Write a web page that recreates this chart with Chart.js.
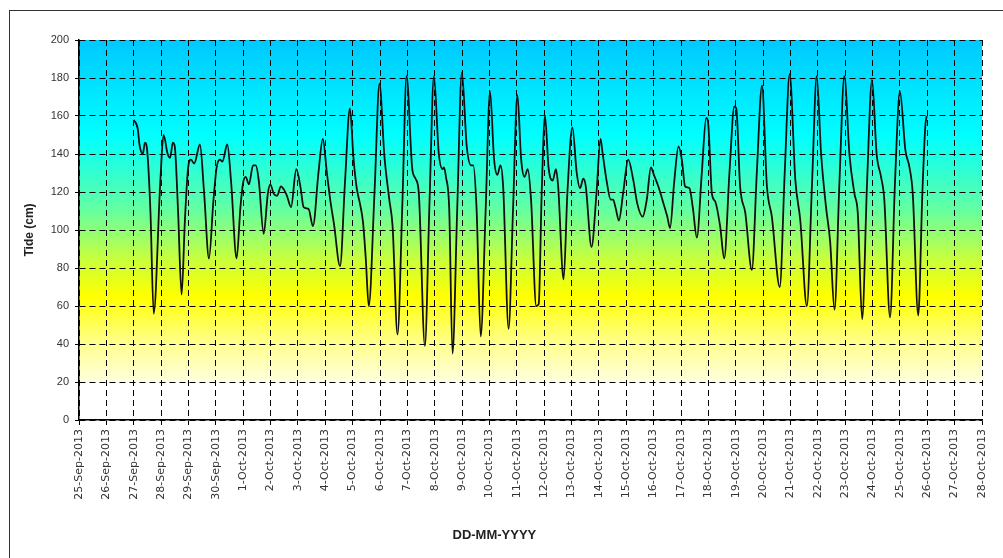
<!DOCTYPE html>
<html>
<head>
<meta charset="utf-8">
<title>Tide</title>
<script src="https://cdn.jsdelivr.net/npm/chart.js@4/dist/chart.umd.min.js"></script>
<style>
  html, body { margin: 0; padding: 0; background: #fff; overflow: hidden; }
  #wrap { position: relative; width: 1003px; height: 558px; }
  #frame { position: absolute; left: 9px; top: 10px; width: 1100px; height: 600px; border: 1px solid #333; }
  canvas { position: absolute; left: 0; top: 0; }
</style>
</head>
<body>
<div id="wrap">
  <div id="frame"></div>
  <canvas id="tideChart" width="1003" height="558"></canvas>
</div>
<script>
// x axis tick labels, one per day from 25-Sep-2013
const tickLabels = [
  "25-Sep-2013", "26-Sep-2013", "27-Sep-2013", "28-Sep-2013", "29-Sep-2013", "30-Sep-2013",
  "1-Oct-2013", "2-Oct-2013", "3-Oct-2013", "4-Oct-2013", "5-Oct-2013", "6-Oct-2013",
  "7-Oct-2013", "8-Oct-2013", "9-Oct-2013", "10-Oct-2013", "11-Oct-2013", "12-Oct-2013",
  "13-Oct-2013", "14-Oct-2013", "15-Oct-2013", "16-Oct-2013", "17-Oct-2013", "18-Oct-2013",
  "19-Oct-2013", "20-Oct-2013", "21-Oct-2013", "22-Oct-2013", "23-Oct-2013", "24-Oct-2013",
  "25-Oct-2013", "26-Oct-2013", "27-Oct-2013", "28-Oct-2013"
];
const yTicks = [0, 20, 40, 60, 80, 100, 120, 140, 160, 180, 200];

// time in days since 25-Sep-2013 00:00
const dayOffset = [
  2.00, 2.15, 2.21, 2.33, 2.41, 2.49, 2.61, 2.73, 2.97, 3.09, 3.24, 3.33, 3.43, 3.50, 3.62, 3.75,
  3.87, 3.99, 4.09, 4.21, 4.42, 4.57, 4.75, 4.91, 5.03, 5.15, 5.24, 5.42, 5.56, 5.76, 5.90, 6.00,
  6.09, 6.21, 6.36, 6.46, 6.57, 6.75, 6.90, 6.99, 7.12, 7.24, 7.38, 7.50, 7.60, 7.75, 7.94, 8.09,
  8.21, 8.39, 8.55, 8.75, 8.91, 9.06, 9.18, 9.32, 9.54, 9.72, 9.90, 10.03, 10.15, 10.28, 10.38, 10.48,
  10.59, 10.80, 10.98, 11.16, 11.34, 11.46, 11.64, 11.82, 11.97, 12.18, 12.30, 12.42, 12.64, 12.81, 12.97, 13.15,
  13.29, 13.34, 13.41, 13.53, 13.65, 13.82, 13.99, 14.17, 14.33, 14.41, 14.53, 14.68, 14.86, 15.02, 15.17, 15.29,
  15.40, 15.50, 15.70, 15.86, 16.02, 16.16, 16.28, 16.40, 16.52, 16.71, 16.80, 16.91, 17.03, 17.16, 17.31, 17.43,
  17.51, 17.71, 17.85, 18.03, 18.19, 18.31, 18.43, 18.52, 18.73, 18.91, 19.06, 19.13, 19.28, 19.43, 19.52, 19.62,
  19.73, 19.89, 20.07, 20.26, 20.40, 20.60, 20.75, 20.90, 21.01, 21.17, 21.36, 21.50, 21.60, 21.75, 21.91, 22.03,
  22.15, 22.31, 22.43, 22.58, 22.76, 22.92, 23.00, 23.13, 23.25, 23.43, 23.58, 23.77, 23.95, 24.02, 24.16, 24.35,
  24.59, 24.77, 24.96, 25.14, 25.32, 25.61, 25.79, 25.97, 26.18, 26.36, 26.60, 26.79, 26.96, 27.12, 27.30, 27.45,
  27.61, 27.79, 27.97, 28.16, 28.34, 28.46, 28.62, 28.80, 28.98, 29.15, 29.31, 29.43, 29.64, 29.82, 30.00, 30.20,
  30.35, 30.47, 30.67, 30.82, 30.93, 30.98
];

// tide level in cm
const tideCm = [
  158, 153, 145, 140, 146, 142, 110, 56, 125, 150, 140, 138, 146, 144, 110, 66,
  105, 133, 137, 135, 145, 120, 85, 115, 133, 137, 136, 145, 125, 85, 112, 125,
  128, 124, 134, 134, 126, 98, 119, 124, 119, 118, 123, 121, 118, 112, 132, 123,
  112, 111, 102, 130, 148, 130, 116, 103, 81, 125, 164, 138, 122, 113, 104, 85,
  60, 120, 177, 139, 116, 102, 45, 115, 181, 132, 127, 119, 39, 115, 181, 140,
  132, 133, 128, 111, 35, 110, 183, 144, 134, 134, 111, 44, 110, 173, 137, 129,
  134, 123, 48, 110, 171, 137, 128, 132, 116, 60, 61, 120, 160, 133, 126, 132,
  123, 74, 120, 154, 130, 122, 127, 123, 91, 119, 148, 141, 126, 116, 116, 111,
  105, 120, 137, 126, 114, 107, 116, 133, 129, 123, 114, 107, 101, 125, 144, 137,
  123, 122, 112, 96, 130, 159, 155, 119, 115, 102, 85, 130, 165, 164, 123, 109,
  79, 130, 176, 123, 107, 70, 130, 182, 126, 105, 60, 125, 181, 140, 112, 94,
  58, 125, 181, 139, 119, 109, 53, 125, 179, 140, 128, 116, 54, 125, 173, 142,
  133, 119, 55, 119, 155, 160
];

const points = dayOffset.map((d, i) => ({ x: d, y: tideCm[i] }));

const fontFamily = "Arial, 'Liberation Sans', sans-serif";
const xTitle = "DD-MM-YYYY";

// background colour bands behind the plot
const bandFill = {
  id: "bandFill",
  beforeDraw(chart) {
    const { ctx, chartArea: a, scales: { y } } = chart;
    const top = y.getPixelForValue(200);
    const low = y.getPixelForValue(20);
    const g = ctx.createLinearGradient(0, top, 0, low);
    g.addColorStop(0.0, "#00c8ff");
    g.addColorStop(0.28, "#00ffff");
    g.addColorStop(0.5, "#66ffa0");
    g.addColorStop(0.64, "#c8ff3c");
    g.addColorStop(0.75, "#ffff00");
    g.addColorStop(0.88, "#ffff88");
    g.addColorStop(1.0, "#ffffe0");
    ctx.save();
    ctx.fillStyle = g;
    ctx.fillRect(a.left, top, a.width, low - top);
    ctx.restore();
  }
};

// x axis title sits a little left of the plot centre in the original
const xTitlePlugin = {
  id: "xTitlePlugin",
  afterDraw(chart) {
    const { ctx, chartArea: a } = chart;
    ctx.save();
    ctx.font = "bold 13px " + fontFamily;
    ctx.fillStyle = "#222";
    ctx.textAlign = "center";
    ctx.textBaseline = "middle";
    ctx.fillText(xTitle, a.left + (a.right - a.left) * 0.46, a.bottom + 115);
    ctx.restore();
  }
};

new Chart(document.getElementById("tideChart"), {
  type: "line",
  data: {
    datasets: [{
      data: points,
      parsing: false,
      borderColor: "#111",
      borderWidth: 1.8,
      pointRadius: 0,
      cubicInterpolationMode: "monotone",
      fill: false
    }]
  },
  options: {
    responsive: false,
    animation: false,
    events: [],
    layout: { padding: { left: 0, top: 40, right: 21, bottom: 0 } },
    plugins: {
      legend: { display: false },
      tooltip: { enabled: false }
    },
    scales: {
      x: {
        type: "linear",
        min: 0,
        max: tickLabels.length - 1,
        afterFit(scale) { scale.height = 138; },
        afterBuildTicks(scale) {
          scale.ticks = tickLabels.map((_, i) => ({ value: i }));
        },
        ticks: {
          autoSkip: false,
          minRotation: 90,
          maxRotation: 90,
          padding: 4,
          color: "#333",
          font: { family: "'DejaVu Sans', sans-serif", size: 11 },
          callback: (v) => tickLabels[v]
        },
        grid: { color: "#000", lineWidth: 1, tickLength: 5 },
        border: { display: true, color: "#000", width: 1.5, dash: [6, 4] },
        title: { display: false }
      },
      y: {
        min: 0,
        max: 200,
        afterFit(scale) { scale.width = 79; },
        afterBuildTicks(scale) {
          scale.ticks = yTicks.map((v) => ({ value: v }));
        },
        ticks: {
          padding: 6,
          color: "#333",
          font: { family: fontFamily, size: 11 }
        },
        grid: { color: "#000", lineWidth: 1, tickLength: 4 },
        border: { display: true, color: "#000", width: 1.5, dash: [6, 4] },
        title: {
          display: true,
          text: "Tide (cm)",
          color: "#222",
          font: { family: fontFamily, size: 12, weight: "bold" },
          padding: { top: 22, bottom: 0 }
        }
      }
    }
  },
  plugins: [bandFill, xTitlePlugin]
});
</script>
</body>
</html>
